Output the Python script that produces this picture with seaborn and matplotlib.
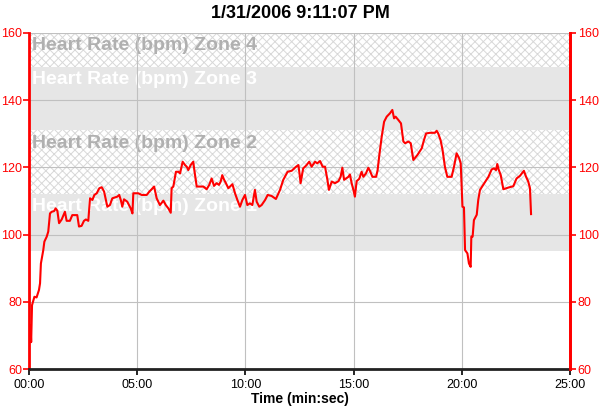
import pandas as pd
import seaborn as sns
import numpy as np
import matplotlib.pyplot as plt
from matplotlib.ticker import FuncFormatter

# heart rate samples (time in minutes, bpm)
time_min = [0.00, 0.03, 0.07, 0.10, 0.14, 0.25, 0.35, 0.46, 0.51, 0.55, 0.66, 0.71, 0.82, 0.89, 0.97,
            1.05, 1.16, 1.23, 1.31, 1.39, 1.51, 1.66, 1.74, 1.89, 2.00, 2.23, 2.31, 2.43, 2.54, 2.63,
            2.74, 2.82, 2.93, 3.02, 3.13, 3.25, 3.36, 3.47, 3.62, 3.74, 3.85, 4.08, 4.17, 4.25, 4.31,
            4.39, 4.54, 4.70, 4.78, 4.82, 5.05, 5.21, 5.44, 5.56, 5.67, 5.78, 5.90, 6.05, 6.21, 6.32,
            6.44, 6.55, 6.59, 6.67, 6.79, 6.90, 6.98, 7.10, 7.21, 7.29, 7.36, 7.47, 7.59, 7.64, 7.75,
            7.90, 8.06, 8.21, 8.33, 8.44, 8.55, 8.67, 8.78, 8.86, 8.93, 9.01, 9.10, 9.21, 9.29, 9.40,
            9.52, 9.63, 9.75, 9.86, 9.98, 10.09, 10.21, 10.32, 10.44, 10.52, 10.64, 10.75, 10.91, 11.03,
            11.21, 11.41, 11.60, 11.75, 11.95, 12.14, 12.34, 12.45, 12.51, 12.55, 12.67, 12.80, 12.95,
            13.06, 13.22, 13.32, 13.45, 13.57, 13.68, 13.79, 13.86, 13.99, 14.14, 14.30, 14.40, 14.48,
            14.56, 14.65, 14.76, 14.83, 14.91, 14.99, 15.06, 15.14, 15.26, 15.37, 15.45, 15.57, 15.68,
            15.76, 15.87, 16.04, 16.11, 16.19, 16.30, 16.41, 16.53, 16.68, 16.79, 16.87, 16.94, 17.07,
            17.19, 17.30, 17.38, 17.53, 17.64, 17.76, 17.95, 18.15, 18.25, 18.35, 18.53, 18.76, 18.84,
            18.91, 19.02, 19.11, 19.22, 19.33, 19.53, 19.64, 19.76, 19.88, 19.95, 20.03, 20.10, 20.15,
            20.26, 20.33, 20.41, 20.44, 20.50, 20.56, 20.69, 20.76, 20.84, 20.99, 21.23, 21.38, 21.49,
            21.58, 21.64, 21.70, 21.80, 21.92, 22.15, 22.38, 22.53, 22.69, 22.87, 22.97, 23.07, 23.15,
            23.18, 23.20]
heart_rate = [73, 68, 73, 68, 79, 81.5, 81.3, 83.5, 85.5, 91.4, 95.4, 97.9, 99.4, 100.9, 106.3,
              106.8, 107.0, 107.8, 107.1, 103.4, 104.5, 106.8, 104.1, 104.1, 105.8, 105.8, 102.4, 102.6, 104.1, 104.5,
              104.1, 110.8, 110.3, 111.8, 112.3, 113.8, 114.1, 112.8, 108.3, 108.8, 110.8, 111.3, 111.8, 110.1, 108.3,
              110.5, 109.8, 107.8, 106.3, 112.3, 112.3, 111.8, 111.8, 112.8, 113.5, 114.3, 110.8, 108.8, 110.1, 108.8,
              107.8, 106.5, 113.8, 114.3, 118.7, 118.7, 118.2, 121.7, 120.7, 120.2, 119.2, 120.7, 121.7, 119.2, 114.3,
              114.3, 114.3, 113.5, 114.8, 116.7, 114.5, 115.3, 114.8, 115.8, 117.7, 116.4, 115.3, 113.8, 114.3, 115.0,
              112.3, 110.3, 108.3, 110.3, 111.8, 108.8, 109.3, 108.8, 113.3, 109.8, 108.3, 108.8, 110.3, 111.8,
              111.5, 110.6, 113.3, 116.3, 118.7, 119.0, 120.2, 120.7, 117.7, 115.3, 119.7, 120.5, 121.7,
              120.2, 121.7, 121.2, 121.9, 120.2, 120.2, 116.3, 113.3, 115.8, 115.3, 115.9, 117.2, 119.9,
              116.3, 116.7, 117.2, 117.9, 115.3, 113.3, 111.3, 115.9, 116.6, 118.7, 117.2, 118.2, 119.9,
              118.9, 117.2, 117.2, 119.2, 123.7, 129.2, 133.6, 135.1, 136.1, 137.1, 134.6, 135.1, 134.1,
              133.1, 127.7, 127.2, 127.7, 127.2, 122.2, 123.7, 125.7, 128.1, 130.1, 130.3, 130.3, 130.9,
              130.1, 128.1, 125.2, 120.2, 117.2, 117.2, 120.2, 124.2, 122.7, 121.2, 108.3, 108.1, 95.4,
              94.4, 91.4, 90.4, 99.4, 99.4, 104.3, 105.9, 110.3, 113.3, 114.8, 117.2, 119.4, 119.7,
              119.2, 121.0, 119.4, 117.7, 113.5, 114.0, 114.4, 116.7, 117.5, 119.0, 117.2, 115.8, 113.8,
              108.8, 106.1]

zone_names = ['Heart Rate (bpm) Zone 1', 'Heart Rate (bpm) Zone 2',
              'Heart Rate (bpm) Zone 3', 'Heart Rate (bpm) Zone 4']
zone_low = [95, 112, 131, 150]
zone_high = [112, 131, 150, 170]
x_ticks = [0, 5, 10, 15, 20, 25]
y_ticks = [60, 80, 100, 120, 140, 160]

df = pd.DataFrame({'time': time_min, 'bpm': heart_rate})

plt.rcParams['font.family'] = ['Liberation Sans', 'DejaVu Sans']
plt.rcParams['hatch.linewidth'] = 0.7

fig = plt.figure(figsize=(6, 4.11), dpi=100)
ax = fig.add_axes([29 / 600, 42 / 411, 541 / 600, 336 / 411])

# zone bands: solid grey alternating with cross hatch
for i, (lo, hi, name) in enumerate(zip(zone_low, zone_high, zone_names)):
    if i % 2 == 0:
        ax.axhspan(lo, hi, facecolor='#e6e6e6', edgecolor='none', zorder=0.1)
        txt_color = 'white'
    else:
        ax.axhspan(lo, hi, facecolor='white', edgecolor='#d8d8d8', hatch='xxxx',
                   linewidth=0, zorder=0.1)
        txt_color = '#b0b0b0'
    top = min(hi, 160)
    ax.annotate(name, xy=(0, top), xytext=(2, -3), textcoords='offset points',
                ha='left', va='top', fontsize=14, fontweight='bold', color=txt_color,
                zorder=0.3)

ax.grid(True, color='#c0c0c0', linewidth=0.8, zorder=0.5)
sns.lineplot(data=df, x='time', y='bpm', ax=ax, color='red', linewidth=1.5,
             estimator=None, zorder=3)

ax.set_xlim(0, 25)
ax.set_ylim(60, 160)
ax.set_xticks(x_ticks)
ax.set_yticks(y_ticks)
ax.xaxis.set_major_formatter(FuncFormatter(lambda v, p: '%02d:00' % int(v)))
ax.set_xlabel('Time (min:sec)', fontsize=10, fontweight='bold', labelpad=1)
ax.set_ylabel('')
fig.suptitle('1/31/2006 9:11:07 PM', fontsize=13, fontweight='bold', y=0.988)

ax.spines['top'].set_visible(False)
ax.spines['left'].set_color('red')
ax.spines['left'].set_linewidth(2)
ax.spines['right'].set_color('red')
ax.spines['right'].set_linewidth(2)
ax.spines['bottom'].set_color('#222222')
ax.spines['bottom'].set_linewidth(2)

ax.tick_params(axis='x', colors='black', length=4, width=1.2, labelsize=9, pad=3)
ax.tick_params(axis='y', colors='red', length=4, width=1.2, labelsize=9, pad=1)

ax2 = ax.twinx()
ax2.set_ylim(60, 160)
ax2.set_yticks(y_ticks)
ax2.tick_params(axis='y', colors='red', length=4, width=1.2, labelsize=9, pad=1.5)
for s in ['top', 'left', 'bottom']:
    ax2.spines[s].set_visible(False)
ax2.spines['right'].set_color('red')
ax2.spines['right'].set_linewidth(2)

fig.savefig('out.png', dpi=100)
